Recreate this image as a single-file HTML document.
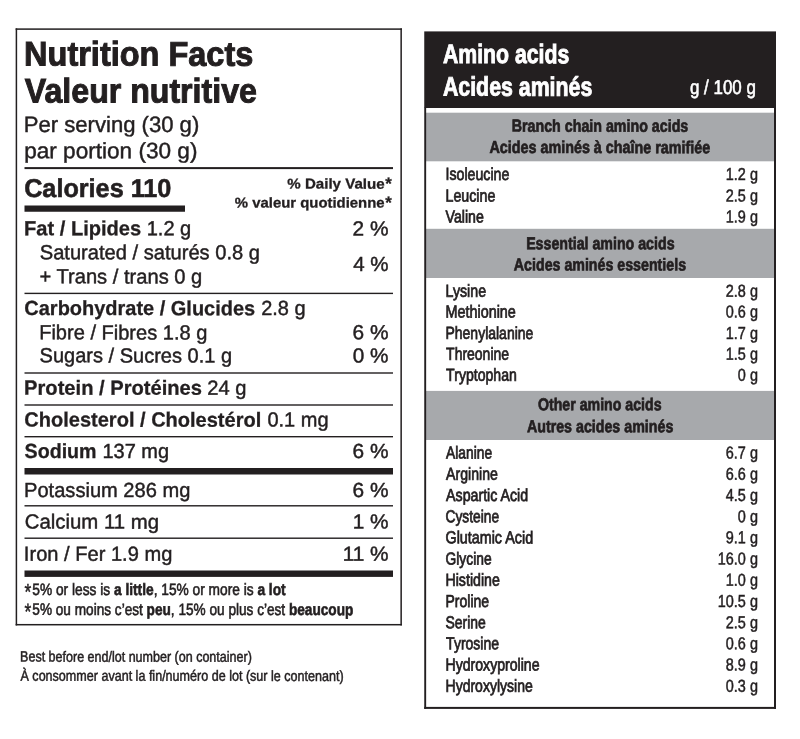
<!DOCTYPE html>
<html lang="en"><head><meta charset="utf-8"><title>Nutrition Facts</title>
<style>
html,body{margin:0;padding:0;background:#fff}
#p{position:relative;width:800px;height:739px;overflow:hidden;background:#fff}
#p svg{position:absolute;left:0;top:0;display:block}
#p text{font-family:"Liberation Sans",sans-serif;white-space:pre;text-rendering:geometricPrecision}
</style></head><body>
<div id="p">
<svg width="800" height="739" viewBox="0 0 800 739" fill="#231f20">
<rect x="15.65" y="28.35" width="386.25" height="1.50" fill="#231f20"/>
<rect x="15.65" y="623.95" width="386.25" height="1.50" fill="#231f20"/>
<rect x="15.65" y="28.35" width="1.50" height="597.10" fill="#231f20"/>
<rect x="400.40" y="28.35" width="1.50" height="597.10" fill="#231f20"/>
<rect x="24.50" y="167.10" width="368.50" height="2.00" fill="#231f20"/>
<rect x="24.50" y="205.50" width="160.50" height="6.25" fill="#231f20"/>
<rect x="24.50" y="292.70" width="368.50" height="1.40" fill="#231f20"/>
<rect x="24.50" y="372.30" width="368.50" height="1.40" fill="#231f20"/>
<rect x="24.50" y="404.30" width="368.50" height="1.40" fill="#231f20"/>
<rect x="24.50" y="436.00" width="368.50" height="1.40" fill="#231f20"/>
<rect x="24.50" y="505.10" width="368.50" height="1.40" fill="#231f20"/>
<rect x="24.50" y="537.50" width="368.50" height="1.40" fill="#231f20"/>
<rect x="24.50" y="468.00" width="368.50" height="6.50" fill="#231f20"/>
<rect x="24.50" y="570.50" width="368.50" height="6.40" fill="#231f20"/>
<rect x="425.25" y="112.70" width="349.75" height="48.60" fill="#a7a9ac"/>
<rect x="425.25" y="228.80" width="349.75" height="49.20" fill="#a7a9ac"/>
<rect x="425.25" y="390.90" width="349.75" height="49.10" fill="#a7a9ac"/>
<rect x="424.25" y="31.40" width="351.75" height="76.60" fill="#231f20"/>
<rect x="424.25" y="107.50" width="1.90" height="601.40" fill="#231f20"/>
<rect x="774.00" y="107.50" width="2.00" height="601.40" fill="#231f20"/>
<rect x="424.25" y="706.90" width="351.75" height="2.00" fill="#231f20"/>
<text transform="translate(24.11,65.50) rotate(0.05) scale(0.9472,1)" font-size="34.3" font-weight="bold" stroke="#231f20" stroke-width="1.0">Nutrition Facts</text>
<text transform="translate(24.86,102.40) rotate(0.05) scale(0.9363,1)" font-size="34.3" font-weight="bold" stroke="#231f20" stroke-width="1.0">Valeur nutritive</text>
<text transform="translate(23.81,131.92) rotate(0.05) scale(0.9948,1)" font-size="22.2" stroke="#231f20" stroke-width="0.45">Per serving (30 g)</text>
<text transform="translate(24.18,158.22) rotate(0.05) scale(1.0178,1)" font-size="22.2" stroke="#231f20" stroke-width="0.45">par portion (30 g)</text>
<text transform="translate(24.16,196.94) rotate(0.05) scale(0.9738,1)" font-size="25.9" font-weight="bold" stroke="#231f20" stroke-width="0.6">Calories 110</text>
<text transform="translate(287.29,188.56) rotate(0.05) scale(1.0638,1)" font-size="14.2" font-weight="bold" stroke="#231f20" stroke-width="0.3">% Daily Value</text>
<text transform="translate(385.21,189.30) rotate(0.05) scale(0.9896,1)" font-size="17" font-weight="bold" stroke="#231f20" stroke-width="0.3">*</text>
<text transform="translate(234.79,207.43) rotate(0.05) scale(1.0499,1)" font-size="14.2" font-weight="bold" stroke="#231f20" stroke-width="0.3">% valeur quotidienne</text>
<text transform="translate(385.21,208.30) rotate(0.05) scale(0.9896,1)" font-size="17" font-weight="bold" stroke="#231f20" stroke-width="0.3">*</text>
<text transform="translate(24.11,235.25) rotate(0.05) scale(0.9839,1)" font-size="20.4" font-weight="bold" stroke="#231f20" stroke-width="0.3">Fat / Lipides</text>
<text transform="translate(146.68,235.28) rotate(0.05) scale(0.9830,1)" font-size="20.4" stroke="#231f20" stroke-width="0.45">1.2 g</text>
<text transform="translate(352.59,235.38) rotate(0.05) scale(1.0221,1)" font-size="20.4" stroke="#231f20" stroke-width="0.45">2 %</text>
<text transform="translate(39.72,259.20) rotate(0.05) scale(0.9863,1)" font-size="20.4" stroke="#231f20" stroke-width="0.45">Saturated / saturés 0.8 g</text>
<text transform="translate(39.45,283.33) rotate(0.05) scale(0.9876,1)" font-size="20.4" stroke="#231f20" stroke-width="0.45">+ Trans / trans 0 g</text>
<text transform="translate(353.16,270.88) rotate(0.05) scale(1.0054,1)" font-size="20.4" stroke="#231f20" stroke-width="0.45">4 %</text>
<text transform="translate(24.33,315.00) rotate(0.05) scale(0.9794,1)" font-size="20.4" font-weight="bold" stroke="#231f20" stroke-width="0.3">Carbohydrate / Glucides</text>
<text transform="translate(261.22,315.08) rotate(0.05) scale(0.9774,1)" font-size="20.4" stroke="#231f20" stroke-width="0.45">2.8 g</text>
<text transform="translate(39.18,339.33) rotate(0.05) scale(0.9825,1)" font-size="20.4" stroke="#231f20" stroke-width="0.45">Fibre / Fibres 1.8 g</text>
<text transform="translate(352.58,339.18) rotate(0.05) scale(1.0224,1)" font-size="20.4" stroke="#231f20" stroke-width="0.45">6 %</text>
<text transform="translate(39.62,362.32) rotate(0.05) scale(0.9814,1)" font-size="20.4" stroke="#231f20" stroke-width="0.45">Sugars / Sucres 0.1 g</text>
<text transform="translate(352.82,362.58) rotate(0.05) scale(1.0153,1)" font-size="20.4" stroke="#231f20" stroke-width="0.45">0 %</text>
<text transform="translate(24.11,394.62) rotate(0.05) scale(0.9869,1)" font-size="20.4" font-weight="bold" stroke="#231f20" stroke-width="0.3">Protein / Protéines</text>
<text transform="translate(207.22,394.68) rotate(0.05) scale(0.9865,1)" font-size="20.4" stroke="#231f20" stroke-width="0.45">24 g</text>
<text transform="translate(24.33,426.50) rotate(0.05) scale(0.9817,1)" font-size="20.4" font-weight="bold" stroke="#231f20" stroke-width="0.3">Cholesterol / Cholestérol</text>
<text transform="translate(267.44,426.57) rotate(0.05) scale(0.9804,1)" font-size="20.4" stroke="#231f20" stroke-width="0.45">0.1 mg</text>
<text transform="translate(24.58,457.97) rotate(0.05) scale(0.9628,1)" font-size="20.4" font-weight="bold" stroke="#231f20" stroke-width="0.3">Sodium</text>
<text transform="translate(102.45,457.97) rotate(0.05) scale(0.9793,1)" font-size="20.4" stroke="#231f20" stroke-width="0.45">137 mg</text>
<text transform="translate(352.58,457.98) rotate(0.05) scale(1.0224,1)" font-size="20.4" stroke="#231f20" stroke-width="0.45">6 %</text>
<text transform="translate(24.07,496.93) rotate(0.05) scale(0.9844,1)" font-size="20.4" stroke="#231f20" stroke-width="0.45">Potassium 286 mg</text>
<text transform="translate(352.58,496.98) rotate(0.05) scale(1.0224,1)" font-size="20.4" stroke="#231f20" stroke-width="0.45">6 %</text>
<text transform="translate(24.70,528.54) rotate(0.05) scale(0.9993,1)" font-size="20.4" stroke="#231f20" stroke-width="0.45">Calcium 11 mg</text>
<text transform="translate(352.66,528.58) rotate(0.05) scale(1.0200,1)" font-size="20.4" stroke="#231f20" stroke-width="0.45">1 %</text>
<text transform="translate(23.87,560.64) rotate(0.05) scale(0.9848,1)" font-size="20.4" stroke="#231f20" stroke-width="0.45">Iron / Fer 1.9 mg</text>
<text transform="translate(342.63,560.68) rotate(0.05) scale(1.0200,1)" font-size="20.4" stroke="#231f20" stroke-width="0.45">11 %</text>
<text transform="translate(24.57,599.60) rotate(0.05) scale(0.7706,1)" font-size="22.5" stroke="#231f20" stroke-width="0.5">*</text>
<text transform="translate(32.30,594.89) rotate(0.05) scale(0.8377,1)" font-size="16.4" stroke="#231f20" stroke-width="0.6">5% or less is <tspan font-weight="bold">a little</tspan>, 15% or more is <tspan font-weight="bold">a lot</tspan></text>
<text transform="translate(24.57,619.30) rotate(0.05) scale(0.7706,1)" font-size="22.5" stroke="#231f20" stroke-width="0.5">*</text>
<text transform="translate(32.30,614.86) rotate(0.05) scale(0.8310,1)" font-size="16.4" stroke="#231f20" stroke-width="0.6">5% ou moins c’est <tspan font-weight="bold">peu</tspan>, 15% ou plus c’est <tspan font-weight="bold">beaucoup</tspan></text>
<text transform="translate(20.08,661.60) rotate(0.05) scale(0.8407,1)" font-size="14.9" stroke="#231f20" stroke-width="0.5">Best before end/lot number (on container)</text>
<text transform="translate(20.49,680.66) rotate(0.05) scale(0.8431,1)" font-size="14.9" stroke="#231f20" stroke-width="0.5">À consommer avant la fin/numéro de lot (sur le contenant)</text>
<text transform="translate(442.94,63.04) rotate(0.05) scale(0.7960,1)" font-size="26.7" font-weight="bold" fill="#fff" stroke="#fff" stroke-width="0.9">Amino acids</text>
<text transform="translate(442.94,95.58) rotate(0.05) scale(0.7989,1)" font-size="26.7" font-weight="bold" fill="#fff" stroke="#fff" stroke-width="0.9">Acides aminés</text>
<text transform="translate(689.95,93.97) rotate(0.05) scale(0.8463,1)" font-size="20" fill="#fff" stroke="#fff" stroke-width="0.6">g / 100 g</text>
<text transform="translate(511.74,131.62) rotate(0.05) scale(0.8243,1)" font-size="17.3" font-weight="bold" stroke="#231f20" stroke-width="0.7">Branch chain amino acids</text>
<text transform="translate(489.44,153.00) rotate(0.05) scale(0.8297,1)" font-size="17.3" font-weight="bold" stroke="#231f20" stroke-width="0.7">Acides aminés à chaîne ramifiée</text>
<text transform="translate(526.14,249.19) rotate(0.05) scale(0.8218,1)" font-size="17.3" font-weight="bold" stroke="#231f20" stroke-width="0.7">Essential amino acids</text>
<text transform="translate(513.84,270.42) rotate(0.05) scale(0.8223,1)" font-size="17.3" font-weight="bold" stroke="#231f20" stroke-width="0.7">Acides aminés essentiels</text>
<text transform="translate(537.96,410.25) rotate(0.05) scale(0.8196,1)" font-size="17.3" font-weight="bold" stroke="#231f20" stroke-width="0.7">Other amino acids</text>
<text transform="translate(526.94,432.24) rotate(0.05) scale(0.8236,1)" font-size="17.3" font-weight="bold" stroke="#231f20" stroke-width="0.7">Autres acides aminés</text>
<text transform="translate(445.50,179.87) rotate(0.05) scale(0.8200,1)" font-size="17.3" stroke="#231f20" stroke-width="0.75">Isoleucine</text>
<text transform="translate(725.82,179.89) rotate(0.05) scale(0.8350,1)" font-size="17.3" stroke="#231f20" stroke-width="0.5">1.2 g</text>
<text transform="translate(445.50,201.43) rotate(0.05) scale(0.8228,1)" font-size="17.3" stroke="#231f20" stroke-width="0.75">Leucine</text>
<text transform="translate(725.82,201.44) rotate(0.05) scale(0.8350,1)" font-size="17.3" stroke="#231f20" stroke-width="0.5">2.5 g</text>
<text transform="translate(445.50,222.58) rotate(0.05) scale(0.8194,1)" font-size="17.3" stroke="#231f20" stroke-width="0.75">Valine</text>
<text transform="translate(725.82,222.59) rotate(0.05) scale(0.8350,1)" font-size="17.3" stroke="#231f20" stroke-width="0.5">1.9 g</text>
<text transform="translate(445.50,296.63) rotate(0.05) scale(0.8227,1)" font-size="17.3" stroke="#231f20" stroke-width="0.75">Lysine</text>
<text transform="translate(725.82,296.64) rotate(0.05) scale(0.8350,1)" font-size="17.3" stroke="#231f20" stroke-width="0.5">2.8 g</text>
<text transform="translate(445.50,317.42) rotate(0.05) scale(0.8318,1)" font-size="17.3" stroke="#231f20" stroke-width="0.75">Methionine</text>
<text transform="translate(725.82,317.44) rotate(0.05) scale(0.8350,1)" font-size="17.3" stroke="#231f20" stroke-width="0.5">0.6 g</text>
<text transform="translate(445.50,338.86) rotate(0.05) scale(0.8088,1)" font-size="17.3" stroke="#231f20" stroke-width="0.75">Phenylalanine</text>
<text transform="translate(725.82,338.89) rotate(0.05) scale(0.8350,1)" font-size="17.3" stroke="#231f20" stroke-width="0.5">1.7 g</text>
<text transform="translate(446.10,359.67) rotate(0.05) scale(0.8090,1)" font-size="17.3" stroke="#231f20" stroke-width="0.75">Threonine</text>
<text transform="translate(725.82,359.69) rotate(0.05) scale(0.8350,1)" font-size="17.3" stroke="#231f20" stroke-width="0.5">1.5 g</text>
<text transform="translate(446.10,380.77) rotate(0.05) scale(0.8153,1)" font-size="17.3" stroke="#231f20" stroke-width="0.75">Tryptophan</text>
<text transform="translate(737.85,380.79) rotate(0.05) scale(0.8350,1)" font-size="17.3" stroke="#231f20" stroke-width="0.5">0 g</text>
<text transform="translate(446.10,458.53) rotate(0.05) scale(0.7971,1)" font-size="17.3" stroke="#231f20" stroke-width="0.75">Alanine</text>
<text transform="translate(725.82,458.54) rotate(0.05) scale(0.8350,1)" font-size="17.3" stroke="#231f20" stroke-width="0.5">6.7 g</text>
<text transform="translate(446.10,479.73) rotate(0.05) scale(0.8156,1)" font-size="17.3" stroke="#231f20" stroke-width="0.75">Arginine</text>
<text transform="translate(725.82,479.74) rotate(0.05) scale(0.8350,1)" font-size="17.3" stroke="#231f20" stroke-width="0.5">6.6 g</text>
<text transform="translate(446.10,500.91) rotate(0.05) scale(0.8209,1)" font-size="17.3" stroke="#231f20" stroke-width="0.75">Aspartic Acid</text>
<text transform="translate(725.82,500.94) rotate(0.05) scale(0.8350,1)" font-size="17.3" stroke="#231f20" stroke-width="0.5">4.5 g</text>
<text transform="translate(445.50,522.13) rotate(0.05) scale(0.7964,1)" font-size="17.3" stroke="#231f20" stroke-width="0.75">Cysteine</text>
<text transform="translate(737.85,522.14) rotate(0.05) scale(0.8350,1)" font-size="17.3" stroke="#231f20" stroke-width="0.5">0 g</text>
<text transform="translate(445.50,543.31) rotate(0.05) scale(0.8292,1)" font-size="17.3" stroke="#231f20" stroke-width="0.75">Glutamic Acid</text>
<text transform="translate(725.82,543.34) rotate(0.05) scale(0.8350,1)" font-size="17.3" stroke="#231f20" stroke-width="0.5">9.1 g</text>
<text transform="translate(445.50,564.53) rotate(0.05) scale(0.7993,1)" font-size="17.3" stroke="#231f20" stroke-width="0.75">Glycine</text>
<text transform="translate(717.80,564.53) rotate(0.05) scale(0.8350,1)" font-size="17.3" stroke="#231f20" stroke-width="0.5">16.0 g</text>
<text transform="translate(445.50,585.73) rotate(0.05) scale(0.8195,1)" font-size="17.3" stroke="#231f20" stroke-width="0.75">Histidine</text>
<text transform="translate(725.82,585.74) rotate(0.05) scale(0.8350,1)" font-size="17.3" stroke="#231f20" stroke-width="0.5">1.0 g</text>
<text transform="translate(445.50,606.93) rotate(0.05) scale(0.8098,1)" font-size="17.3" stroke="#231f20" stroke-width="0.75">Proline</text>
<text transform="translate(717.80,606.93) rotate(0.05) scale(0.8350,1)" font-size="17.3" stroke="#231f20" stroke-width="0.5">10.5 g</text>
<text transform="translate(445.50,628.13) rotate(0.05) scale(0.8068,1)" font-size="17.3" stroke="#231f20" stroke-width="0.75">Serine</text>
<text transform="translate(725.82,628.14) rotate(0.05) scale(0.8350,1)" font-size="17.3" stroke="#231f20" stroke-width="0.5">2.5 g</text>
<text transform="translate(446.10,649.33) rotate(0.05) scale(0.8110,1)" font-size="17.3" stroke="#231f20" stroke-width="0.75">Tyrosine</text>
<text transform="translate(725.82,649.34) rotate(0.05) scale(0.8350,1)" font-size="17.3" stroke="#231f20" stroke-width="0.5">0.6 g</text>
<text transform="translate(445.50,670.51) rotate(0.05) scale(0.8161,1)" font-size="17.3" stroke="#231f20" stroke-width="0.75">Hydroxyproline</text>
<text transform="translate(725.82,670.54) rotate(0.05) scale(0.8350,1)" font-size="17.3" stroke="#231f20" stroke-width="0.5">8.9 g</text>
<text transform="translate(445.50,691.71) rotate(0.05) scale(0.8118,1)" font-size="17.3" stroke="#231f20" stroke-width="0.75">Hydroxylysine</text>
<text transform="translate(725.82,691.74) rotate(0.05) scale(0.8350,1)" font-size="17.3" stroke="#231f20" stroke-width="0.5">0.3 g</text>
</svg>
</div>
</body></html>
